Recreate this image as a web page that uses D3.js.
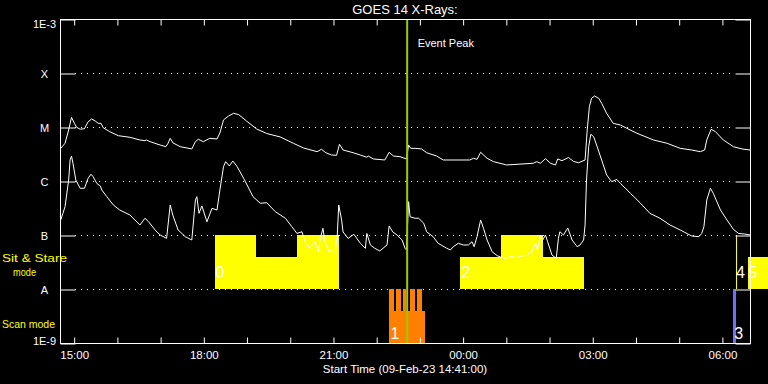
<!DOCTYPE html>
<html>
<head>
<meta charset="utf-8">
<script src="https://cdn.jsdelivr.net/npm/d3@7"></script>
<style>
html,body{margin:0;padding:0;background:#000;}
svg{display:block;}
text{font-family:"Liberation Sans",Arial,sans-serif;}
</style>
</head>
<body>
<svg id="chart" width="768" height="384"></svg>
<script>
// ---------- data ----------
const startTime = Date.UTC(2023, 1, 9, 14, 41);   // 09-Feb-23 14:41:00
const spanMinutes = 958;
const eventPeakMinute = 482;

const yTickValues = [1e-9, 1e-8, 1e-7, 1e-6, 1e-5, 1e-4, 1e-3];
const yTickLabels = ["1E-9", "A", "B", "C", "M", "X", "1E-3"];

// long channel (upper curve): minutes since start, flux
const longMinutes = [1,7,12,16,20,23,28,34,39,44,49,53,57,60,69,81,97,111,118,120,125,139,147,150,153,157,167,183,188,192,199,208,218,222,227,234,241,248,259,273,287,306,324,338,357,363,369,377,384,388,393,407,417,426,428,435,451,457,463,472,481,484,487,493,502,509,523,532,569,574,579,584,593,602,620,657,662,667,674,681,688,691,697,706,713,720,729,732,735,738,742,748,752,759,768,778,787,801,824,843,861,877,889,895,898,904,910,921,935,947,958];
const longFlux = [4.0e-6,5.0e-6,8.8e-6,1.51e-5,1.17e-5,9.9e-6,9.1e-6,9.3e-6,1.25e-5,1.41e-5,1.29e-5,1.17e-5,1.17e-5,9.7e-6,8.2e-6,6.9e-6,6.45e-6,5.75e-6,5.58e-6,5.75e-6,5.35e-6,4.64e-6,4.32e-6,4.99e-6,6.17e-6,5.06e-6,4.32e-6,3.92e-6,5.35e-6,5.92e-6,5.35e-6,6.17e-6,6.0e-6,7.75e-6,1.35e-5,1.6e-5,1.79e-5,1.70e-5,1.29e-5,9.19e-6,7.58e-6,6.53e-6,4.99e-6,4.09e-6,3.49e-6,3.87e-6,3.34e-6,3.03e-6,2.99e-6,4.78e-6,3.75e-6,3.34e-6,3.03e-6,2.75e-6,2.9e-6,2.56e-6,2.45e-6,3.40e-6,2.9e-6,2.82e-6,2.56e-6,4.64e-6,4.03e-6,4.03e-6,3.92e-6,3.34e-6,2.9e-6,2.45e-6,2.45e-6,2.63e-6,2.52e-6,3.40e-6,2.63e-6,2.28e-6,1.98e-6,2.13e-6,2.28e-6,2.13e-6,2.59e-6,2.13e-6,1.98e-6,2.56e-6,2.38e-6,2.72e-6,2.30e-6,2.18e-6,2.45e-6,8.8e-6,2.38e-5,3.40e-5,3.75e-5,3.40e-5,2.75e-5,1.79e-5,1.17e-5,1.09e-5,9.45e-6,7.66e-6,5.75e-6,4.99e-6,4.03e-6,3.75e-6,3.49e-6,3.75e-6,5.75e-6,9.07e-6,8.19e-6,5.75e-6,4.32e-6,3.92e-6,3.75e-6];

// short channel (lower curve): minutes since start, flux
const shortMinutes = [1,4,7,12,14,16,18,22,28,34,39,43,46,51,56,58,65,74,83,97,111,118,123,132,139,148,153,157,164,174,183,188,190,193,197,204,211,218,222,227,230,235,240,246,255,268,278,287,299,313,322,329,336,340,347,354,359,361,365,368,373,382,385,387,391,393,400,408,417,424,426,431,437,444,454,457,462,468,475,479,481,484,486,493,498,505,509,518,525,537,542,546,553,560,567,572,575,579,584,588,593,600,607,616,627,634,641,648,655,660,663,667,669,674,677,683,689,692,694,699,705,711,718,722,727,729,731,734,737,741,745,752,759,766,773,778,792,806,819,833,847,861,877,887,891,894,898,903,907,917,926,935,942,951,958];
const shortFlux = [1.9e-7,2.52e-7,3.34e-7,1.04e-6,2.45e-6,2.9e-6,2.13e-6,1.04e-6,7.33e-7,7.33e-7,1.12e-6,1.33e-6,1.2e-6,9.07e-7,8.08e-7,6.82e-7,5.12e-7,3.6e-7,2.9e-7,2.35e-7,1.53e-7,2.04e-7,1.76e-7,1.24e-7,1.0e-7,8.67e-8,3.6e-7,2.25e-7,1.24e-7,9.31e-8,8.08e-8,4.45e-7,5.12e-7,2.52e-7,3.45e-7,1.76e-7,3.12e-7,2.9e-7,6.82e-7,1.84e-6,2.28e-6,1.9e-6,2.35e-6,1.84e-6,1.12e-6,5.12e-7,3.87e-7,3.96e-7,2.7e-7,2.04e-7,1.42e-7,1.07e-7,1.15e-7,7.52e-8,5.67e-8,7.52e-8,4.9e-8,8.08e-8,1.33e-7,7.52e-8,5.06e-8,4.9e-8,1.0e-7,3.6e-7,1.9e-7,1.14e-7,8.67e-8,1.03e-7,7.02e-8,5.67e-8,1.07e-7,6.53e-8,5.67e-8,5.06e-8,6.53e-8,1.47e-7,1.14e-7,1.0e-7,8.08e-8,5.67e-8,5.28e-8,4.14e-7,2.18e-7,2.04e-7,2.04e-7,1.65e-7,1.15e-7,9.31e-8,7.02e-8,5.67e-8,5.28e-8,6.07e-8,7.02e-8,6.53e-8,6.53e-8,7.52e-8,6.07e-8,9.31e-8,1.9e-7,1.33e-7,8.08e-8,4.9e-8,4.14e-8,3.7e-8,3.96e-8,3.8e-8,4.14e-8,4.14e-8,4.9e-8,7.02e-8,5.28e-8,1.0e-7,7.52e-8,1.0e-7,7.52e-8,4.26e-8,3.7e-8,8.67e-8,1.15e-7,1.0e-7,1.35e-7,8.08e-8,6.07e-8,6.53e-8,8.08e-8,1.53e-7,1.04e-6,4.32e-6,7.33e-6,6.6e-6,4.64e-6,2.45e-6,1.29e-6,9.7e-7,1.07e-6,9.07e-7,5.92e-7,3.87e-7,2.52e-7,2.04e-7,1.53e-7,1.24e-7,9.59e-8,9.31e-8,1.07e-7,1.42e-7,4.45e-7,7.33e-7,5.92e-7,2.9e-7,1.9e-7,1.27e-7,1.07e-7,1.04e-7,1.0e-7];

// observing blocks: start/end minutes, level (1 = full, 0.6 = partial)
const sitStareStart = [215, 272, 329, 556, 612, 670, 938, 955];
const sitStareEnd   = [272, 329, 388, 612, 670, 728, 940, 995];
const sitStareLevel = [1, 0.6, 1, 0.6, 1, 0.6, 1, 0.6];

const scanStart = [457, 457, 467, 476, 486, 496, 935];
const scanEnd   = [507, 464, 473, 481, 493, 502, 938];
const scanLevel = [0.6, 1, 1, 1, 1, 1, 1];
const scanPass  = ["1", "1", "1", "1", "1", "1", "3"];

const passLabels  = ["0", "1", "2", "3", "4", "5"];
const passMinutes = [216, 459, 557, 936, 938.5, 955.5];
const passMode    = ["sit", "scan", "sit", "scan", "sit", "sit"];

// ---------- chart ----------
const svg = d3.select("#chart");
const W = 768, H = 384;
const M = {left: 60, right: 18, top: 19, bottom: 41};
const toDate = m => new Date(startTime + m * 60000);

const x = d3.scaleUtc()
  .domain([toDate(0), toDate(spanMinutes)])
  .range([M.left, W - M.right]);
const y = d3.scaleLog()
  .domain([1e-9, 1e-3])
  .range([H - M.bottom, M.top]);
const sitBand = d3.scaleLinear().domain([0, 1]).range([y(1e-8), y(1e-7)]);
const scanBand = d3.scaleLinear().domain([0, 1]).range([y(1e-9), y(1e-8)]);

const x0 = M.left, x1 = W - M.right, yTop = M.top, yBot = H - M.bottom;

// dotted grid lines
svg.append("g").selectAll("line")
  .data(yTickValues.slice(1, -1))
  .join("line")
  .attr("x1", x0 + 15).attr("x2", x1 - 15)
  .attr("y1", d => Math.round(y(d)) + 0.5).attr("y2", d => Math.round(y(d)) + 0.5)
  .attr("stroke", "#fff").attr("stroke-width", 1)
  .attr("stroke-dasharray", "1,5");

// Sit & Stare blocks
svg.append("g").attr("shape-rendering", "crispEdges").selectAll("rect")
  .data(sitStareStart.map((s, i) => ({s, e: sitStareEnd[i], l: sitStareLevel[i]})))
  .join("rect")
  .attr("x", d => Math.round(x(toDate(d.s))))
  .attr("width", d => Math.round(x(toDate(d.e))) - Math.round(x(toDate(d.s))))
  .attr("y", d => Math.round(sitBand(d.l)))
  .attr("height", d => Math.round(sitBand(0)) - Math.round(sitBand(d.l)))
  .attr("fill", "#ffff00");

// scan blocks
const scanColor = {"1": "#ff8000", "3": "#6e6eff"};
svg.append("g").attr("shape-rendering", "crispEdges").selectAll("rect")
  .data(scanStart.map((s, i) => ({s, e: scanEnd[i], l: scanLevel[i], p: scanPass[i]})))
  .join("rect")
  .attr("x", d => Math.round(x(toDate(d.s))))
  .attr("width", d => Math.round(x(toDate(d.e))) - Math.round(x(toDate(d.s))))
  .attr("y", d => Math.round(scanBand(d.l)))
  .attr("height", d => Math.round(scanBand(0)) - Math.round(scanBand(d.l)))
  .attr("fill", d => scanColor[d.p]);

// pass labels
svg.append("g").selectAll("text")
  .data(passLabels.map((t, i) => ({t, m: passMinutes[i], mode: passMode[i]})))
  .join("text")
  .attr("x", d => x(toDate(d.m)))
  .attr("y", d => d.mode === "sit" ? 278 : 339)
  .attr("fill", "#fff")
  .attr("font-size", 16)
  .text(d => d.t);

// curves
const line = d3.line().x(d => x(toDate(d[0]))).y(d => y(d[1]));
svg.append("path")
  .datum(longMinutes.map((m, i) => [m, longFlux[i]]))
  .attr("d", line).attr("fill", "none").attr("stroke", "#fff").attr("stroke-width", 1);
svg.append("path")
  .datum(shortMinutes.map((m, i) => [m, shortFlux[i]]))
  .attr("d", line).attr("fill", "none").attr("stroke", "#fff").attr("stroke-width", 1);

// event peak line
const xe = x(toDate(eventPeakMinute));
svg.append("line")
  .attr("x1", xe).attr("x2", xe).attr("y1", yTop).attr("y2", yBot)
  .attr("stroke", "#99cc00").attr("stroke-width", 2);
svg.append("text")
  .attr("x", xe + 10.5).attr("y", 47)
  .attr("fill", "#fff").attr("font-size", 11)
  .text("Event Peak");

// frame
svg.append("rect")
  .attr("x", x0 + 0.5).attr("y", yTop + 0.5)
  .attr("width", x1 - x0).attr("height", yBot - yTop)
  .attr("fill", "none").attr("stroke", "#fff").attr("stroke-width", 1);

// x axes (hourly ticks)
const fmt = d3.utcFormat("%H:%M");
const bottomAxis = d3.axisBottom(x)
  .ticks(d3.utcHour.every(1))
  .tickSizeInner(-6).tickSizeOuter(0).tickPadding(7)
  .tickFormat(d => d.getUTCHours() % 3 === 0 ? fmt(d) : "");
const gb = svg.append("g").attr("transform", `translate(0.5,${yBot + 0.5})`).call(bottomAxis);
const topAxis = d3.axisTop(x)
  .ticks(d3.utcHour.every(1))
  .tickSizeInner(-6).tickSizeOuter(0)
  .tickFormat("");
const gt = svg.append("g").attr("transform", `translate(0.5,${yTop + 0.5})`).call(topAxis);
[gb, gt].forEach(g => {
  g.select(".domain").remove();
  g.selectAll("line").attr("stroke", "#fff");
  g.selectAll("text").attr("fill", "#fff").attr("font-size", 11.5)
    .attr("font-family", "Liberation Sans, Arial, sans-serif");
});

// y axis (left & right ticks)
const leftAxis = d3.axisLeft(y)
  .tickValues(yTickValues)
  .tickSizeInner(-15).tickSizeOuter(0).tickPadding(0)
  .tickFormat((d, i) => yTickLabels[i]);
const gl = svg.append("g").attr("transform", `translate(${x0 + 0.5},0.5)`).call(leftAxis);
gl.select(".domain").remove();
gl.selectAll("line").attr("stroke", "#fff");
gl.selectAll("text")
  .attr("x", -16).attr("text-anchor", "middle")
  .attr("dy", (d, i) => d === 1e-3 ? "8" : (d === 1e-9 ? "1" : "4"))
  .attr("fill", "#fff").attr("font-size", 11)
  .attr("font-family", "Liberation Sans, Arial, sans-serif");
const rightAxis = d3.axisRight(y)
  .tickValues(yTickValues)
  .tickSizeInner(-15).tickSizeOuter(0)
  .tickFormat("");
const gr = svg.append("g").attr("transform", `translate(${x1 + 0.5},0.5)`).call(rightAxis);
gr.select(".domain").remove();
gr.selectAll("line").attr("stroke", "#fff");

// titles
svg.append("text")
  .attr("x", (x0 + x1) / 2).attr("y", 14)
  .attr("text-anchor", "middle").attr("fill", "#fff").attr("font-size", 13)
  .text("GOES 14 X-Rays:");
svg.append("text")
  .attr("x", (x0 + x1) / 2).attr("y", 373)
  .attr("text-anchor", "middle").attr("fill", "#fff").attr("font-size", 11.5)
  .text("Start Time (09-Feb-23 14:41:00)");

// mode labels
svg.append("text").attr("x", 2).attr("y", 262).attr("fill", "#ffff00")
  .attr("font-size", 11).attr("textLength", 65).attr("lengthAdjust", "spacingAndGlyphs")
  .text("Sit & Stare");
svg.append("text").attr("x", 13).attr("y", 276).attr("fill", "#ffff00")
  .attr("font-size", 11).attr("textLength", 23).attr("lengthAdjust", "spacingAndGlyphs")
  .text("mode");
svg.append("text").attr("x", 2).attr("y", 328).attr("fill", "#ffff00")
  .attr("font-size", 11.5).attr("textLength", 53).attr("lengthAdjust", "spacingAndGlyphs")
  .text("Scan mode");
</script>
</body>
</html>
